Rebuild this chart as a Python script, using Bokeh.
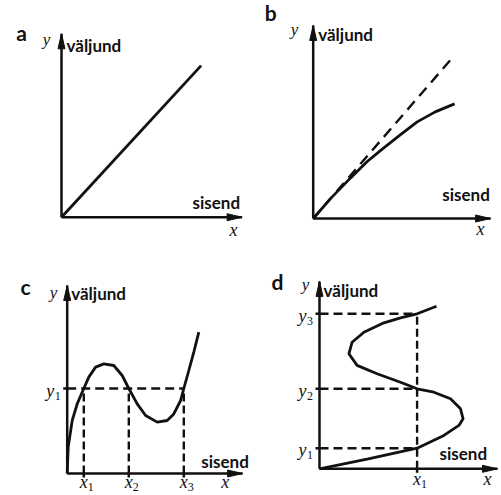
from bokeh.plotting import figure
from bokeh.layouts import gridplot
from bokeh.models import Range1d, Label
from bokeh.embed import file_html
from bokeh.resources import INLINE

U = 20.0  # screen pixels per data unit

# ---- panel a: linear input/output characteristic ----
a_x = [0, 6.98]
a_y = [0, 7.58]
a_axis_len = [9.03, 9.17]          # x-axis, y-axis

# ---- panel b: saturating characteristic vs. ideal line ----
b_ideal_x = [0, 7.03]
b_ideal_y = [0, 8.12]
b_x = [0, 0.9, 1.87, 2.7, 3.53, 4.4, 5.2, 6.1, 7.07]
b_y = [0, 1.03, 2.03, 2.85, 3.53, 4.22, 4.83, 5.33, 5.73]
b_axis_len = [8.87, 9.65]

# ---- panel c: non-monotonic characteristic ----
c_x = [0, 0.05, 0.25, 0.5, 0.83, 1.08, 1.42, 1.83, 2.33, 2.75, 3.08, 3.5,
       3.92, 4.5, 5.0, 5.33, 5.67, 5.83, 6.08, 6.33, 6.58]
c_y = [0, 1.32, 2.65, 3.48, 4.25, 4.82, 5.32, 5.48, 5.4, 4.9, 4.25, 3.48,
       2.9, 2.57, 2.65, 2.98, 3.65, 4.25, 5.15, 6.07, 7.07]
c_level_y = 4.25
c_roots_x = [0.83, 3.08, 5.83]
c_root_names = ["1", "2", "3"]
c_axis_len = [8.77, 9.4]

# ---- panel d: multivalued (S-shaped) characteristic ----
d_x = [0, 2.44, 4.88, 6.22, 6.97, 7.18, 7.05, 6.55, 5.72, 4.88, 4.05, 2.88,
       1.88, 1.47, 1.63, 2.22, 3.22, 4.05, 4.88, 5.85]
d_y = [0, 0.5, 1.03, 1.67, 2.17, 2.5, 3.0, 3.5, 3.83, 4.0, 4.33, 4.75,
       5.17, 5.75, 6.33, 6.83, 7.3, 7.55, 7.75, 8.13]
d_level_x = 4.88
d_levels_y = [1.03, 4.0, 7.75]
d_level_names = ["1", "2", "3"]
d_axis_len = [8.9, 9.37]

INK = "#111111"
SANS = "Lato"
SERIF = "Liberation Serif"
AXIS_W = 2.5
CURVE_W = 2.8
DASH_W = 2.4


def panel(width, height, ox, oy):
    p = figure(width=width, height=height,
               x_range=Range1d(-ox / U, (width - ox) / U),
               y_range=Range1d(-(height - oy) / U, oy / U),
               x_axis_location=None, y_axis_location=None,
               output_backend="svg", toolbar_location=None, min_border=0)
    p.grid.visible = False
    p.outline_line_color = None
    p.background_fill_color = "white"
    p.border_fill_color = "white"
    return p


def draw_axes(p, lens):
    xl, yl = lens
    p.line([0, xl], [0, 0], line_color=INK, line_width=AXIS_W)
    p.line([0, 0], [0, yl], line_color=INK, line_width=AXIS_W)
    hl, hw = 15 / U, 7 / U
    p.patch([xl, xl - hl, xl - hl], [0, hw / 2, -hw / 2], color=INK)
    p.patch([0, hw / 2, -hw / 2], [yl, yl - hl, yl - hl], color=INK)


def text(p, x, y, s, size="17px", font=SANS, style="bold",
         align="left", baseline="middle", dx=0, dy=0):
    p.add_layout(Label(x=x, y=y, text=s, text_font=font,
                       text_font_style=style, text_font_size=size,
                       text_color=INK, text_align=align,
                       text_baseline=baseline, x_offset=dx, y_offset=dy))


def var(p, x, y, s, size="18px", align="center", dx=0):
    text(p, x, y, s, size=size, font=SERIF, style="italic", align=align, dx=dx)


def sub_x(p, x, y, n):
    var(p, x, y, "x")
    text(p, x, y, n, size="12px", font=SERIF, style="normal",
         align="left", dx=4, dy=-5)


def sub_y(p, y, n):
    var(p, 0, y, "y", align="right", dx=-13)
    text(p, 0, y, n, size="12px", font=SERIF, style="normal",
         align="left", dx=-12.5, dy=-5)


def titles(p, letter, lx, ly, yx, yy, vx, vy, sx, sy, xx, xy):
    text(p, lx, ly, letter, size="21px", align="center")
    var(p, yx, yy, "y", size="17px")
    text(p, vx, vy, "väljund")
    text(p, sx, sy, "sisend")
    var(p, xx, xy, "x")


# a
pa = panel(250, 248, 61, 216.7)
draw_axes(pa, a_axis_len)
pa.line(a_x, a_y, line_color=INK, line_width=CURVE_W)
titles(pa, "a", -2.0, 9.24, -0.75, 8.88, 0.25, 8.58, 6.55, 0.75, 8.6, -0.62)

# b
pb = panel(251, 248, 62.7, 218)
draw_axes(pb, b_axis_len)
pb.line(b_ideal_x, b_ideal_y, line_color=INK, line_width=DASH_W,
        line_dash="11 7")
pb.line(b_x, b_y, line_color=INK, line_width=CURVE_W)
titles(pb, "b", -2.13, 10.3, -0.93, 9.45, 0.25, 9.2, 6.45, 1.2, 8.37, -0.5)

# c
pc = panel(250, 247, 66.7, 225)
draw_axes(pc, c_axis_len)
pc.line([0, c_roots_x[-1]], [c_level_y, c_level_y], line_color=INK,
        line_width=DASH_W, line_dash="9 5")
pc.segment(x0=c_roots_x, y0=[0] * 3, x1=c_roots_x, y1=[c_level_y] * 3,
           line_color=INK, line_width=DASH_W, line_dash="8 4")
pc.segment(x0=c_roots_x, y0=[-0.2] * 3, x1=c_roots_x, y1=[0] * 3,
           line_color=INK, line_width=AXIS_W)
pc.segment(x0=[-0.2], y0=[c_level_y], x1=[0], y1=[c_level_y],
           line_color=INK, line_width=AXIS_W)
pc.line(c_x, c_y, line_color=INK, line_width=CURVE_W)
titles(pc, "c", -2.08, 9.35, -0.68, 9.05, 0.2, 9.0, 6.7, 0.6, 7.9, -0.4)
for xr, n in zip(c_roots_x, c_root_names):
    sub_x(pc, xr, -0.4, n)
sub_y(pc, c_level_y - 0.1, "1")

# d
pd = panel(251, 247, 69, 220.3)
draw_axes(pd, d_axis_len)
pd.segment(x0=[0] * 3, y0=d_levels_y, x1=[d_level_x] * 3, y1=d_levels_y,
           line_color=INK, line_width=DASH_W, line_dash="9 5")
pd.line([d_level_x, d_level_x], [0, d_levels_y[-1]], line_color=INK,
        line_width=DASH_W, line_dash="8 4")
pd.segment(x0=[-0.2] * 3, y0=d_levels_y, x1=[0] * 3, y1=d_levels_y,
           line_color=INK, line_width=AXIS_W)
pd.segment(x0=[d_level_x], y0=[-0.2], x1=[d_level_x], y1=[0],
           line_color=INK, line_width=AXIS_W)
pd.line(d_x, d_y, line_color=INK, line_width=CURVE_W)
titles(pd, "d", -2.1, 9.37, -0.7, 9.2, 0.2, 8.9, 6.0, 0.77, 8.4, -0.5)
sub_x(pd, d_level_x, -0.5, "1")
for yl, n in zip(d_levels_y, d_level_names):
    sub_y(pd, yl - 0.1, n)

grid = gridplot([[pa, pb], [pc, pd]], toolbar_location=None)

with open("out.html", "w") as f:
    f.write(file_html(grid, INLINE))
